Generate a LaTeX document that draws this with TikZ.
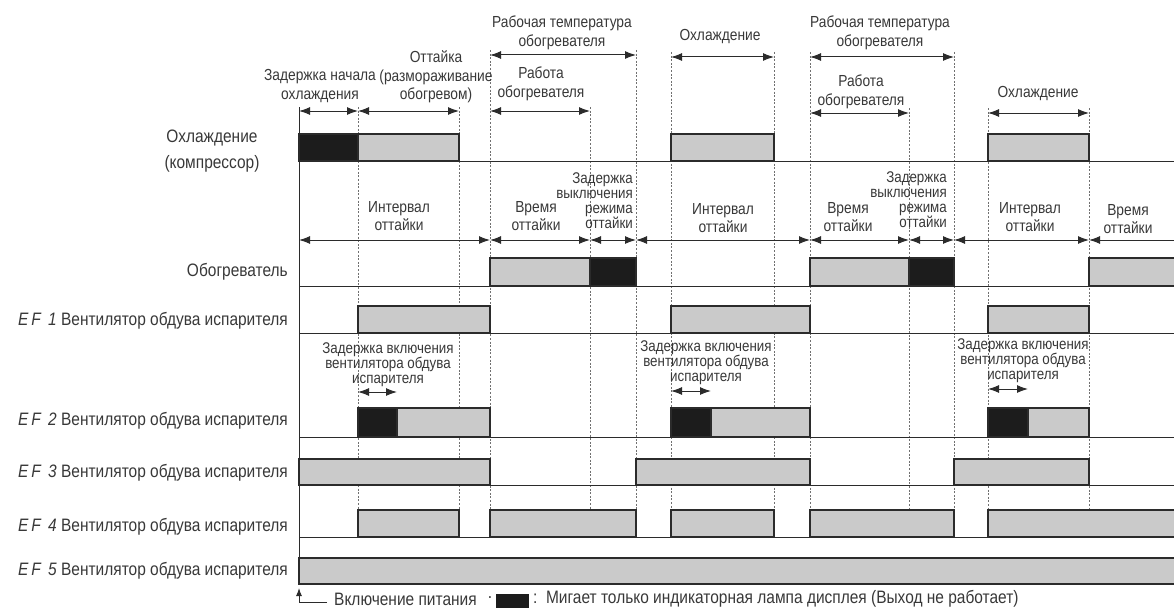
\documentclass[tikz,border=0pt]{standalone}
\usepackage{fontspec}
\setmainfont{Liberation Sans}[FakeStretch=0.86]
\usetikzlibrary{arrows.meta}
\definecolor{txt}{HTML}{383838}
\definecolor{edge}{HTML}{2B2B2B}
\definecolor{barg}{HTML}{CACACA}
\definecolor{barb}{HTML}{1C1C1C}
\definecolor{guide}{HTML}{707070}
\tikzset{dimtip/.tip={Latex[length=11pt, width=8pt]}}

\begin{document}
\begin{tikzpicture}[x=1pt, y=-1pt,
	lbl/.style={font=\fontsize{16}{18.5}\selectfont, text=txt, align=center, inner sep=0pt},
	small/.style={lbl, font=\fontsize{15.5}{15}\selectfont},
	rowlbl/.style={font=\fontsize{18}{21}\selectfont, text=txt, align=right, inner sep=0pt, anchor=east},
	gbar/.style={draw=edge, line width=1.8pt, fill=barg},
	bbar/.style={draw=edge, line width=1.8pt, fill=barb},
	guide/.style={draw=guide, line width=0.8pt, dash pattern=on 2pt off 1.6pt},
	rowline/.style={draw=edge, line width=1pt},
	dim/.style={draw=edge, line width=1pt, dimtip-dimtip}]
%	\draw[help lines] (0,0) grid (1174,610);
	\useasboundingbox (0,0) rectangle (1174,610);
	% time marks
	\foreach \x/\t in {358/107, 459/107, 490/50, 590/107, 636/50, 671/52, 774/52,
		810/52, 909/108, 954/52, 988/108, 1089/108}
		\draw[guide] (\x,\t) -- (\x,537);
	\draw[rowline] (299,107) -- (299,584);
	\foreach \y in {161,286,333,437,485,537}
		\draw[rowline] (299,\y) -- (1180,\y);

	% row labels
	\node[rowlbl, anchor=center, align=center] (cool) at (212,151) {Охлаждение\\[5pt](компрессор)};
	\node[rowlbl] (heat) at (288,272) {Обогреватель};
	\node[rowlbl] (ef1) at (288,321) {{\itshape E\,F\, 1} Вентилятор обдува испарителя};
	\node[rowlbl] (ef2) at (288,421) {{\itshape E\,F\, 2} Вентилятор обдува испарителя};
	\node[rowlbl] (ef3) at (288,473) {{\itshape E\,F\, 3} Вентилятор обдува испарителя};
	\node[rowlbl] (ef4) at (288,527) {{\itshape E\,F\, 4} Вентилятор обдува испарителя};
	\node[rowlbl] (ef5) at (288,571) {{\itshape E\,F\, 5} Вентилятор обдува испарителя};

	% compressor
	\draw[bbar] (299,134) rectangle (358,161);
	\draw[gbar] (358,134) rectangle (459,161);
	\draw[gbar] (671,134) rectangle (774,161);
	\draw[gbar] (988,134) rectangle (1089,161);
	% heater
	\draw[gbar] (490,258) rectangle (590,286);
	\draw[bbar] (590,258) rectangle (636,286);
	\draw[gbar] (810,258) rectangle (909,286);
	\draw[bbar] (909,258) rectangle (954,286);
	\draw[gbar] (1089,258) rectangle (1185,286);
	% EF1
	\draw[gbar] (358,306) rectangle (490,333);
	\draw[gbar] (671,306) rectangle (810,333);
	\draw[gbar] (988,306) rectangle (1089,333);
	% EF2
	\draw[bbar] (358,408) rectangle (397,437);
	\draw[gbar] (397,408) rectangle (490,437);
	\draw[bbar] (671,408) rectangle (711,437);
	\draw[gbar] (711,408) rectangle (810,437);
	\draw[bbar] (988,408) rectangle (1028,437);
	\draw[gbar] (1028,408) rectangle (1089,437);
	% EF3
	\draw[gbar] (299,459) rectangle (490,485);
	\draw[gbar] (636,459) rectangle (810,485);
	\draw[gbar] (954,459) rectangle (1089,485);
	% EF4
	\draw[gbar] (358,510) rectangle (459,537);
	\draw[gbar] (490,510) rectangle (636,537);
	\draw[gbar] (671,510) rectangle (774,537);
	\draw[gbar] (810,510) rectangle (954,537);
	\draw[gbar] (988,510) rectangle (1185,537);
	% EF5
	\draw[gbar] (299,558) rectangle (1185,584);

	% upper spans
	\node[lbl] (start) at (320,86) {Задержка начала\\охлаждения};
	\node[lbl] (defr) at (436,77) {Оттайка\\(размораживание\\обогревом)};
	\node[lbl] (temp1) at (562,33) {Рабочая температура\\обогревателя};
	\node[lbl] (work1) at (541,84) {Работа\\обогревателя};
	\node[lbl] (cool1) at (720,37) {Охлаждение};
	\node[lbl] (temp2) at (880,33) {Рабочая температура\\обогревателя};
	\node[lbl] (work2) at (861,92) {Работа\\обогревателя};
	\node[lbl] (cool2) at (1038,94) {Охлаждение};
	\draw[dim] (299,111) -- (358,111);
	\draw[dim] (358,111) -- (459,111);
	\draw[dim] (490,55) -- (636,55);
	\draw[dim] (490,111) -- (590,111);
	\draw[dim] (671,57) -- (774,57);
	\draw[dim] (810,57) -- (954,57);
	\draw[dim] (810,113) -- (909,113);
	\draw[dim] (988,113) -- (1089,113);

	% defrost spans
	\node[lbl] (int1) at (399,216) {Интервал\\оттайки};
	\node[lbl] (dt1) at (536,216) {Время\\оттайки};
	\node[small, anchor=east, align=right] (off1) at (633,201) {Задержка\\выключения\\режима\\оттайки};
	\node[lbl] (int2) at (723,218) {Интервал\\оттайки};
	\node[lbl] (dt2) at (848,217) {Время\\оттайки};
	\node[small, anchor=east, align=right] (off2) at (947,200) {Задержка\\выключения\\режима\\оттайки};
	\node[lbl] (int3) at (1030,217) {Интервал\\оттайки};
	\node[lbl] (dt3) at (1128,219) {Время\\оттайки};
	\foreach \a/\b in {299/490, 490/590, 590/636, 636/810, 810/909, 909/954, 954/1089}
		\draw[dim] (\a,240) -- (\b,240);
	\draw[draw=edge, line width=1pt, dimtip-] (1089,240) -- (1180,240);

	% fan delay
	\node[small] (fd1) at (388,365) {Задержка включения\\вентилятора обдува\\испарителя};
	\node[small] (fd2) at (706,363) {Задержка включения\\вентилятора обдува\\испарителя};
	\node[small] (fd3) at (1023,361) {Задержка включения\\вентилятора обдува\\испарителя};
	\draw[dim] (358,392) -- (397,392);
	\draw[dim] (671,391) -- (711,391);
	\draw[dim] (988,389) -- (1028,389);

	% legend
	\draw[rowline, -{Latex[length=8pt, width=6pt]}] (327,602) -- (299,602) -- (299,588);
	\node[rowlbl, anchor=west] (power) at (334,599) {Включение питания};
	\node[rowlbl, anchor=center] (dot) at (490,598) {.};
	\draw[fill=barb, draw=barb] (496,594) rectangle (528,607);
	\node[rowlbl, anchor=west] (blink) at (533,599) {:\ \ Мигает только индикаторная лампа дисплея (Выход не работает)};
\end{tikzpicture}
\end{document}
